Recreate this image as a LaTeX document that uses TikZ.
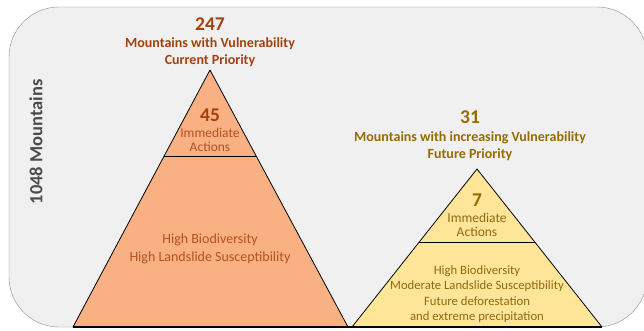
\documentclass[tikz,border=0pt]{standalone}
\usepackage{fontspec}
\setmainfont{Carlito}
\usepackage{xcolor}
\usetikzlibrary{calc}

\definecolor{panel}{HTML}{F0F0F0}
\definecolor{rim}{HTML}{8C8C8C}
\definecolor{peach}{HTML}{F9B083}
\definecolor{straw}{HTML}{FFE597}
\definecolor{rust}{HTML}{A3420E}
\definecolor{rustlight}{HTML}{B5521F}
\definecolor{ochre}{HTML}{966B00}
\definecolor{ochrelight}{HTML}{8F6A12}

\tikzset{
    head/.style={font=\bfseries\fontsize{14}{17}\selectfont, align=center},
    count/.style={font=\bfseries\fontsize{19.5}{21}\selectfont},
    inner/.style={font=\fontsize{14}{17.5}\selectfont, align=center}
}

\begin{document}
\begin{tikzpicture}[x=1pt,y=-1pt]
                \useasboundingbox (0,0) rectangle (644,331);
                \draw[rim,fill=panel,rounded corners=50pt] (9,7) rectangle (647,327);

                \node[gray!60!black,font=\bfseries\fontsize{18.5}{20}\selectfont,rotate=90] (total) at (36,142) {1048 Mountains};

                % current priority pyramid
                \coordinate (a1) at (210,70);
                \coordinate (b1) at (73,327);
                \coordinate (c1) at (348,327);
                \draw[fill=peach,line width=0.8pt,line join=round] (b1) -- (a1) -- (c1) -- cycle;
                \draw[line width=0.8pt] ($(a1)!0.338!(b1)$) -- ($(a1)!0.338!(c1)$);

                \node[count,text=rust] (n1) at (210,24) {247};
                \node[head,text=rust] (h1) at (210,52) {Mountains with Vulnerability\\Current Priority};
                \node[count,text=rust] (t1) at (210,115) {45};
                \node[inner,text=rustlight,font=\fontsize{13.5}{14.5}\selectfont] (i1) at (210,140) {Immediate\\Actions};
                \node[inner,text=rustlight] (d1) at (210,249) {High Biodiversity\\High Landslide Susceptibility};

                % future priority pyramid
                \coordinate (a2) at (477,169);
                \coordinate (b2) at (352,327);
                \coordinate (c2) at (602,327);
                \draw[fill=straw,line width=0.8pt,line join=round] (b2) -- (a2) -- (c2) -- cycle;
                \draw[line width=0.8pt] ($(a2)!0.462!(b2)$) -- ($(a2)!0.462!(c2)$);

                \node[count,text=ochre] (n2) at (470,117) {31};
                \node[head,text=ochre] (h2) at (470,146) {Mountains with increasing Vulnerability\\Future Priority};
                \node[count,text=ochre] (t2) at (477,200) {7};
                \node[inner,text=ochrelight,font=\fontsize{13.5}{14.5}\selectfont] (i2) at (477,225) {Immediate\\Actions};
                \node[inner,text=ochrelight,font=\fontsize{12.7}{15.5}\selectfont] (d2) at (477,294) {High Biodiversity\\Moderate Landslide Susceptibility\\Future deforestation\\and extreme precipitation};

                \draw[line width=1.2pt] (b1) -- (c2);
            \end{tikzpicture}
\end{document}
